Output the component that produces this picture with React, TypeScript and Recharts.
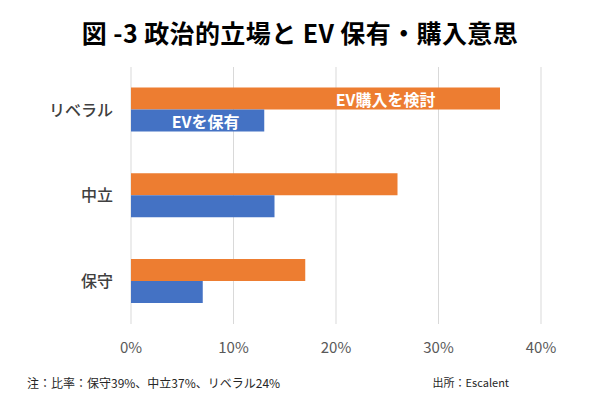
import React from 'react';
import { BarChart, Bar, XAxis, YAxis, CartesianGrid, LabelList } from 'recharts';

const categories = ['リベラル', '中立', '保守'];
const considering = [36, 26, 17];
const owning = [13, 14, 7];
const xTicks = [0, 10, 20, 30, 40];
const seriesNames = ['EV購入を検討', 'EVを保有'];

const data = categories.map((name, i) => ({
  name,
  considering: considering[i],
  owning: owning[i],
}));

const FONT = '"Noto Sans CJK JP", "Noto Sans", sans-serif';

// label sits only in the first row, a bit off-centre like the original
const makeLabel = (text: string, ratio: number) => (props: any) => {
  const { x, y, width, height, index } = props;
  if (index !== 0) return null;
  return (
    <text
      x={Number(x) + Number(width) * ratio}
      y={Number(y) + Number(height) / 2}
      fill="#ffffff"
      fontSize={16}
      fontWeight={700}
      fontFamily={FONT}
      textAnchor="middle"
      dominantBaseline="central"
    >
      {text}
    </text>
  );
};

const App: React.FC = () => {
  return (
    <div style={{ position: 'absolute', left: 0, top: 0, width: 600, height: 400, background: '#fff', fontFamily: FONT }}>
      <div
        style={{
          position: 'absolute',
          top: 14,
          left: 0,
          width: 600,
          textAlign: 'center',
          fontSize: 25,
          fontWeight: 700,
          letterSpacing: 0.4,
          color: '#000',
          lineHeight: '36px',
        }}
      >
        図 -3 政治的立場と EV 保有・購入意思
      </div>
      <BarChart
        width={600}
        height={400}
        data={data}
        layout="vertical"
        margin={{ top: 67, right: 59, bottom: 46, left: 0 }}
        barCategoryGap="24%"
        barGap={0}
      >
        <CartesianGrid horizontal={false} stroke="#d9d9d9" />
        <XAxis
          type="number"
          domain={[0, 40]}
          ticks={xTicks}
          tickFormatter={(v) => `${v}%`}
          axisLine={false}
          tickLine={false}
          tickMargin={12}
          height={30}
          tick={{ fill: '#595959', fontSize: 15, fontFamily: FONT }}
        />
        <YAxis
          type="category"
          dataKey="name"
          width={131}
          axisLine={false}
          tickLine={false}
          tickMargin={12}
          tick={{ fill: '#404040', fontSize: 16, fontWeight: 500, fontFamily: FONT }}
        />
        <Bar dataKey="considering" fill="#ED7D31" isAnimationActive={false}>
          <LabelList content={makeLabel(seriesNames[0], 0.69)} />
        </Bar>
        <Bar dataKey="owning" fill="#4472C4" isAnimationActive={false}>
          <LabelList content={makeLabel(seriesNames[1], 0.56)} />
        </Bar>
      </BarChart>
      <div style={{ position: 'absolute', left: 27, top: 374, fontSize: 12, color: '#262626', lineHeight: '18px' }}>
        注：比率：保守39%、中立37%、リベラル24%
      </div>
      <div style={{ position: 'absolute', right: 91, top: 373, fontSize: 11, color: '#262626', lineHeight: '18px' }}>
        出所：Escalent
      </div>
    </div>
  );
};

export default App;
